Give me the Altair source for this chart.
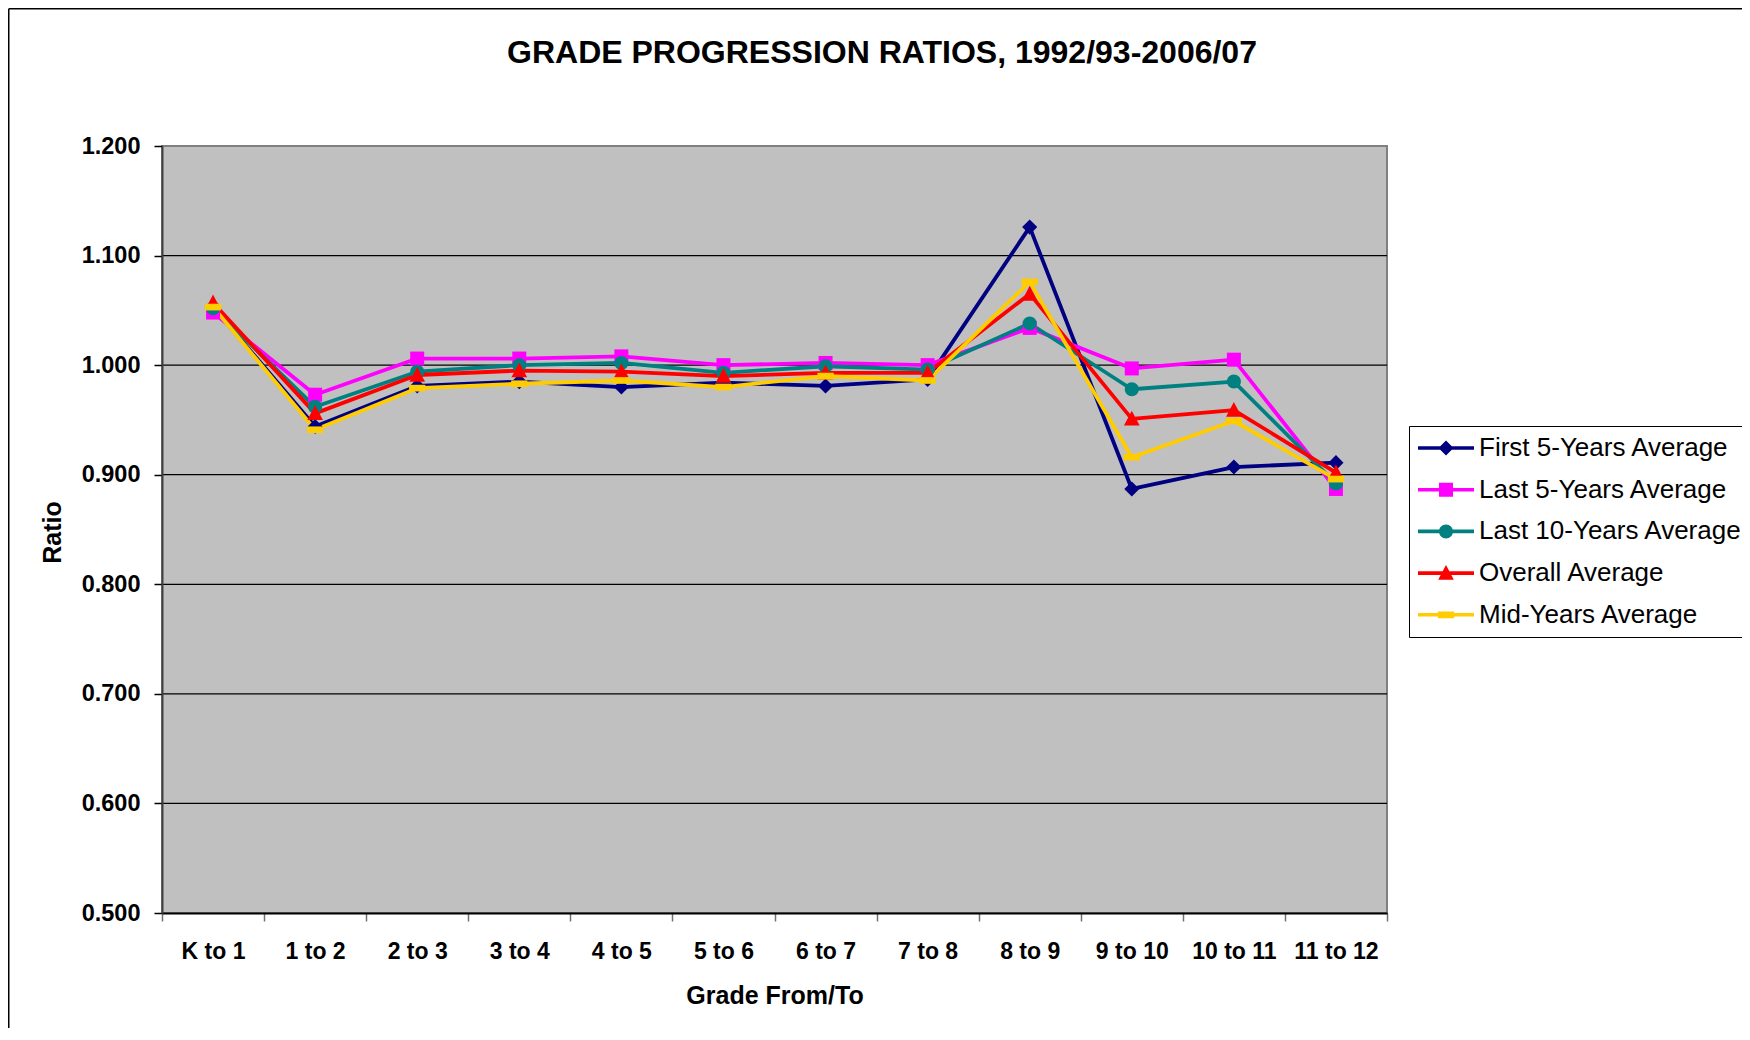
import altair as alt
import pandas as pd

# ---------------- data ----------------
grades = ["K to 1", "1 to 2", "2 to 3", "3 to 4", "4 to 5", "5 to 6",
          "6 to 7", "7 to 8", "8 to 9", "9 to 10", "10 to 11", "11 to 12"]
series_names = ["First 5-Years Average", "Last 5-Years Average",
                "Last 10-Years Average", "Overall Average", "Mid-Years Average"]
first5 = [1.053, 0.944, 0.981, 0.985, 0.980, 0.984, 0.981, 0.987, 1.126, 0.887, 0.907, 0.911]
last5 = [1.048, 0.973, 1.006, 1.006, 1.008, 1.000, 1.002, 1.000, 1.034, 0.997, 1.005, 0.887]
last10 = [1.052, 0.962, 0.994, 1.000, 1.002, 0.993, 0.999, 0.996, 1.038, 0.978, 0.985, 0.892]
overall = [1.057, 0.956, 0.991, 0.995, 0.994, 0.990, 0.993, 0.993, 1.065, 0.951, 0.959, 0.902]
mid_years = [1.053, 0.941, 0.979, 0.983, 0.986, 0.980, 0.990, 0.986, 1.076, 0.916, 0.949, 0.896]
y_ticks = [0.5, 0.6, 0.7, 0.8, 0.9, 1.0, 1.1, 1.2]
grid_values = [0.6, 0.7, 0.8, 0.9, 1.0, 1.1]
y_range = [0.5, 1.2]
title_text = ["GRADE PROGRESSION RATIOS, 1992/93-2006/07"]

# ---------------- styles ----------------
colors = ["#000080", "#FF00FF", "#008080", "#FF0000", "#FFCC00"]
marker_paths = [
    "M0,-0.27L0.27,0L0,0.27L-0.27,0Z",
    "M-0.25,-0.25L0.25,-0.25L0.25,0.25L-0.25,0.25Z",
    "M-0.25,0A0.25,0.25,0,1,1,0.25,0A0.25,0.25,0,1,1,-0.25,0Z",
    "M0,-0.29L0.28,0.24L-0.28,0.24Z",
    "M-0.29,-0.12L0.29,-0.12L0.29,0.12L-0.29,0.12Z",
]
legend_line = "M-1,-0.065L1,-0.065L1,0.065L-1,0.065Z"
legend_paths = [legend_line + p for p in marker_paths]
FONT = "Liberation Sans"
W, H = 1225, 767
SYM = 3136  # 56 px symbol box

all_values = [first5, last5, last10, overall, mid_years]
rows = []
for name, vals in zip(series_names, all_values):
    for g, v in zip(grades, vals):
        rows.append({"grade": g, "series": name, "value": v})
df = pd.DataFrame(rows)

y_axis = alt.Axis(
    values=y_ticks, format=".3f", grid=False, title="Ratio", zindex=1,
    labelFont=FONT, labelFontWeight="bold", labelFontSize=23.5, labelColor="black",
    labelPadding=14, tickSize=8, tickColor="black", tickWidth=1.5,
    domainColor="#404040", domainWidth=2,
    titleFont=FONT, titleFontWeight="bold", titleFontSize=25, titleColor="black",
    titleBaseline="alphabetic", titleX=-102, titleY=386, titleAngle=270,
)
y_scale = alt.Scale(domain=y_range, nice=False, zero=False)

x_enc = alt.X(
    "grade:N", sort=grades,
    scale=alt.Scale(type="band", paddingInner=0, paddingOuter=0),
    axis=alt.Axis(
        title="Grade From/To", tickBand="extent", labelAngle=0, zindex=1,
        labelFont=FONT, labelFontWeight="bold", labelFontSize=23, labelColor="black",
        labelPadding=19, tickSize=8, tickColor="#707070", tickWidth=1.5,
        domainColor="black", domainWidth=2,
        titleFont=FONT, titleFontWeight="bold", titleFontSize=25, titleColor="black",
        titleBaseline="alphabetic", titleY=90,
    ),
)
y_enc = alt.Y("value:Q", scale=y_scale, axis=y_axis)

color_scale = alt.Scale(domain=series_names, range=colors)

plot_bg = alt.Chart(pd.DataFrame({"lo": [y_range[0]], "hi": [y_range[1]]})).mark_rect(
    fill="#C0C0C0", stroke="#808080", strokeWidth=2
).encode(
    y=alt.Y("hi:Q", scale=y_scale, axis=y_axis), y2="lo:Q"
)

grid = alt.Chart(pd.DataFrame({"value": grid_values})).mark_rule(
    color="black", strokeWidth=1.3
).encode(y=y_enc)

lines = alt.Chart(df).mark_line(strokeWidth=3.8, strokeJoin="round").encode(
    x=x_enc, y=y_enc,
    color=alt.Color("series:N", scale=color_scale, legend=None),
    order=alt.Order("grade_idx:Q"),
).transform_calculate(
    grade_idx="indexof(" + str(grades) + ", datum.grade)"
)

points = alt.Chart(df).mark_point(filled=True, size=SYM, opacity=1, strokeWidth=0).encode(
    x=x_enc, y=y_enc,
    color=alt.Color("series:N", scale=color_scale, legend=None),
    shape=alt.Shape("series:N", scale=alt.Scale(domain=series_names, range=marker_paths),
                    legend=None),
)

legend_props = dict(
    title=None, orient="none", legendX=1247, legendY=280,
    symbolSize=SYM, clipHeight=30, rowPadding=11.7, padding=7,
    symbolOffset=2, labelOffset=5, labelFont=FONT, labelFontSize=26,
    labelColor="black", labelLimit=500, strokeColor="black", fillColor="white",
    symbolStrokeWidth=0, symbolOpacity=1,
)
legend_layer = alt.Chart(df).transform_filter("datum.value < 0").mark_point(
    filled=True, size=SYM, opacity=1, strokeWidth=0
).encode(
    color=alt.Color("series:N", scale=color_scale, legend=alt.Legend(**legend_props)),
    shape=alt.Shape("series:N", scale=alt.Scale(domain=series_names, range=legend_paths),
                    legend=alt.Legend(**legend_props)),
)

title = alt.Chart(pd.DataFrame({"t": title_text})).mark_text(
    font=FONT, fontSize=32, fontWeight="bold", color="black",
    align="center", baseline="alphabetic",
).encode(text="t:N", x=alt.value(720), y=alt.value(-82.7))

frame_df = pd.DataFrame({"f": [0]})
frame_left = alt.Chart(frame_df).mark_rule(color="black", strokeWidth=1.5).encode(
    x=alt.value(-153.25), y=alt.value(-137.25), y2=alt.value(H + 200)
)
frame_top = alt.Chart(frame_df).mark_rule(color="black", strokeWidth=1.5).encode(
    x=alt.value(-153.25), x2=alt.value(W + 500), y=alt.value(-137.25)
)

chart = alt.layer(
    plot_bg, grid, lines, points, legend_layer, title, frame_left, frame_top
).resolve_scale(
    color="independent", shape="independent"
).properties(
    width=W, height=H,
    autosize=alt.AutoSizeParams(type="none"),
    padding={"left": 154, "top": 138, "right": 355, "bottom": 115},
).configure_view(
    stroke=None
)

chart.save("out.html", embed_options={"renderer": "svg", "actions": False})
